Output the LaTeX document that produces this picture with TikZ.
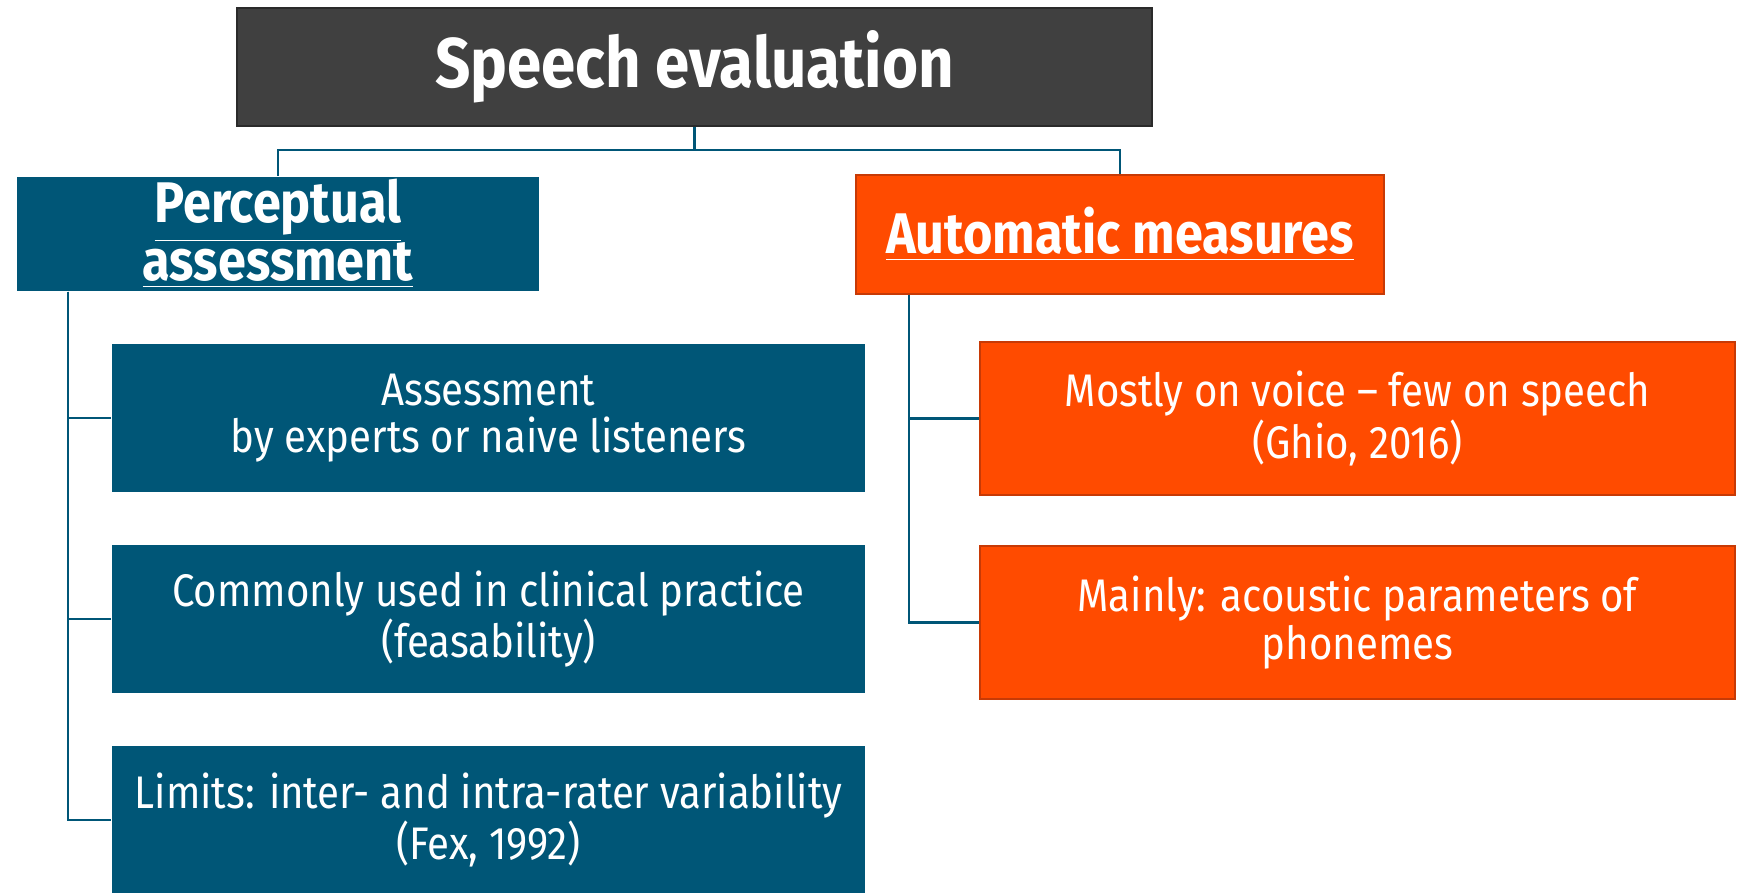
\documentclass[tikz,border=0pt]{standalone}
\usepackage{fontspec}
\setmainfont{Fira Sans}[FakeStretch=0.88]
\usepackage{tikz}
\usetikzlibrary{positioning, arrows, shapes}
\definecolor{titlegray}{HTML}{404040}
\definecolor{titleedge}{HTML}{2A2A2A}
\definecolor{petrol}{HTML}{005677}
\definecolor{signal}{HTML}{FF4B00}
\definecolor{signaledge}{HTML}{C73A06}
\tikzstyle{tblock} = [rectangle, draw=titleedge, fill=titlegray, text=white,
minimum width=9.15cm, minimum height=1.18cm, font=\fontsize{20}{23}\selectfont\bfseries]
\tikzstyle{hbblock} = [rectangle, fill=petrol, text=white, align=center, inner ysep=0pt,
minimum width=5.22cm, minimum height=1.14cm, font=\fontsize{16.3}{16.5}\selectfont\bfseries]
\tikzstyle{hoblock} = [rectangle, draw=signaledge, fill=signal, text=white, align=center,
minimum width=5.28cm, minimum height=1.19cm, font=\fontsize{16.3}{16.5}\selectfont\bfseries]
\tikzstyle{bblock} = [rectangle, fill=petrol, text=white, align=center,
minimum width=7.53cm, minimum height=1.48cm, font=\fontsize{13}{13.4}\selectfont]
\tikzstyle{oblock} = [rectangle, draw=signaledge, fill=signal, text=white, align=center,
minimum width=7.55cm, minimum height=1.53cm, font=\fontsize{13}{13.4}\selectfont]
\tikzstyle{link} = [petrol, line width=0.6pt]

\begin{document}
\begin{tikzpicture}[node distance=2.01cm]
                \useasboundingbox (0,0) rectangle (17.44,-8.92);
                \node (1) [tblock] at (6.945,-0.67) {Speech evaluation};
                \node (2) [hbblock] at (2.78,-2.34) {\underline{Perceptual}\\\underline{assessment}};
                \node (3) [hoblock] at (11.2,-2.345) {\underline{Automatic measures}};
                \node (4) [bblock] at (4.885,-4.18) {Assessment\\by experts or naive listeners};
                \node (5) [bblock, below of=4] {Commonly used in clinical practice\\(feasability)};
                \node (6) [bblock, below of=5] {Limits: inter- and intra-rater variability\\(Fex, 1992)};
                \node (7) [oblock] at (13.575,-4.185) {Mostly on voice -- few on speech\\(Ghio, 2016)};
                \node (8) [oblock, below of=7, yshift=-0.03cm] {Mainly: acoustic parameters of\\phonemes};
                % tree lines
                \draw [link] (1.south) -- ++(0,-0.23) -| (2.north);
                \draw [link] (1.south) -- ++(0,-0.23) -| (3.north);
                \draw [link] ([xshift=0.52cm]2.south west) |- (4.west);
                \draw [link] ([xshift=0.52cm]2.south west) |- (5.west);
                \draw [link] ([xshift=0.52cm]2.south west) |- (6.west);
                \draw [link] ([xshift=0.54cm]3.south west) |- (7.west);
                \draw [link] ([xshift=0.54cm]3.south west) |- (8.west);
\end{tikzpicture}
\end{document}
